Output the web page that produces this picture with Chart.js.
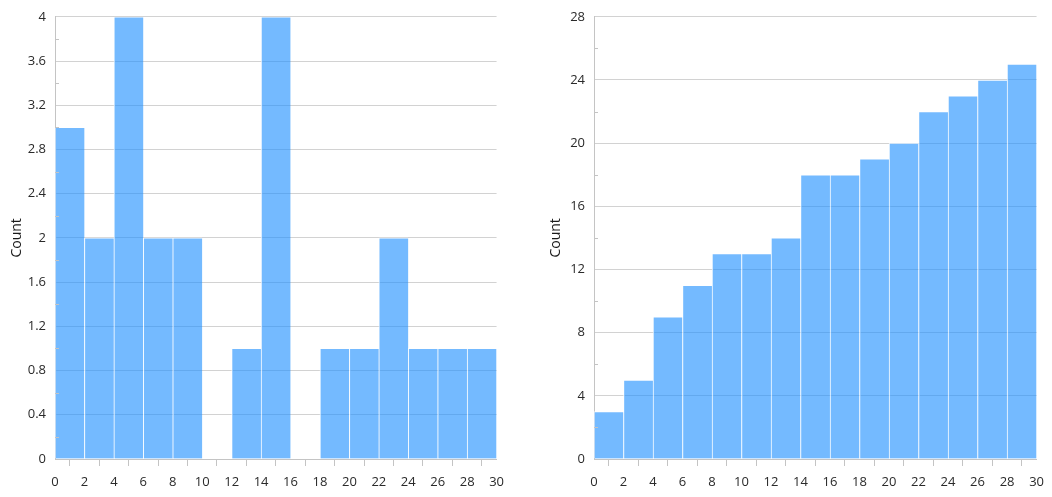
<!DOCTYPE html>
<html>
<head>
<meta charset="utf-8">
<script src="https://cdn.jsdelivr.net/npm/chart.js@4.4.1/dist/chart.umd.min.js"></script>
<style>
  html, body { margin: 0; padding: 0; background: #fff; }
  .box { position: absolute; top: 0; height: 497px; }
  #leftBox { left: 0; width: 512px; }
  #rightBox { left: 539px; width: 513px; }
</style>
</head>
<body>
<div class="box" id="leftBox"><canvas id="countChart"></canvas></div>
<div class="box" id="rightBox"><canvas id="cumulativeChart"></canvas></div>
<script>
// bin centres (bins of width 2 from 0 to 30)
const binCenters = [1, 3, 5, 7, 9, 11, 13, 15, 17, 19, 21, 23, 25, 27, 29];
const binCounts = [3, 2, 4, 2, 2, 0, 1, 4, 0, 1, 1, 2, 1, 1, 1];
const cumulativeCounts = [3, 5, 9, 11, 13, 13, 14, 18, 18, 19, 20, 22, 23, 24, 25];

const xTickLabels = [0, 2, 4, 6, 8, 10, 12, 14, 16, 18, 20, 22, 24, 26, 28, 30];
const leftYTicks = [0, 0.4, 0.8, 1.2, 1.6, 2, 2.4, 2.8, 3.2, 3.6, 4];
const rightYTicks = [0, 4, 8, 12, 16, 20, 24, 28];

const barFill = 'rgba(30, 144, 255, 0.62)';
const gridGray = '#d2d2d2';
const axisGray = '#c4c4c4';
const textColor = '#2a2a2a';

Chart.defaults.font.family = '"Open Sans", "Noto Sans", sans-serif';
Chart.defaults.font.size = 13;
Chart.defaults.color = textColor;

// short minor tick marks inside the plot, halfway between the major y ticks
const minorTicks = {
  id: 'minorTicks',
  afterDraw(chart) {
    const y = chart.scales.y;
    const ctx = chart.ctx;
    const majors = y.ticks.map(t => t.value);
    ctx.save();
    ctx.strokeStyle = axisGray;
    ctx.lineWidth = 1;
    for (let i = 0; i < majors.length - 1; i++) {
      const py = Math.round(y.getPixelForValue((majors[i] + majors[i + 1]) / 2)) + 0.5;
      ctx.beginPath();
      ctx.moveTo(chart.chartArea.left, py);
      ctx.lineTo(chart.chartArea.left + 4, py);
      ctx.stroke();
    }
    ctx.restore();
  }
};

function createHistogram(canvasId, values, yTicks) {
  const ctx = document.getElementById(canvasId);
  const yStep = yTicks[1] - yTicks[0];
  return new Chart(ctx, {
    type: 'bar',
    data: {
      datasets: [{
        data: binCenters.map((c, i) => ({ x: c, y: values[i] })),
        backgroundColor: barFill,
        borderColor: 'rgba(255, 255, 255, 0.75)',
        borderWidth: { top: 1, left: 1, right: 0, bottom: 0 },
        borderSkipped: false,
        barPercentage: 1,
        categoryPercentage: 1,
      }],
    },
    options: {
      responsive: true,
      maintainAspectRatio: false,
      animation: false,
      layout: { padding: { top: 16, right: 15, left: 0, bottom: 0 } },
      plugins: {
        legend: { display: false },
        tooltip: { enabled: false },
      },
      scales: {
        x: {
          type: 'linear',
          min: xTickLabels[0],
          max: xTickLabels[xTickLabels.length - 1],
          offset: false,
          ticks: { stepSize: 2, padding: 8, maxRotation: 0, autoSkip: false },
          grid: {
            drawOnChartArea: false,
            drawTicks: true,
            tickLength: 7,
            tickColor: axisGray,
          },
          border: { color: axisGray },
          afterFit(scale) { scale.height = 38; },
        },
        y: {
          min: yTicks[0],
          max: yTicks[yTicks.length - 1],
          ticks: {
            stepSize: yStep,
            padding: 9,
            callback: v => Number(v.toFixed(1)).toString(),
          },
          grid: { color: gridGray, drawTicks: false },
          border: { color: axisGray },
          title: {
            display: true,
            text: 'Count',
            color: '#1a1a1a',
            font: { size: 14 },
            padding: { top: 9, bottom: 0 },
          },
          afterFit(scale) { scale.width = 55; },
        },
      },
    },
    plugins: [minorTicks],
  });
}

createHistogram('countChart', binCounts, leftYTicks);
createHistogram('cumulativeChart', cumulativeCounts, rightYTicks);
</script>
</body>
</html>
